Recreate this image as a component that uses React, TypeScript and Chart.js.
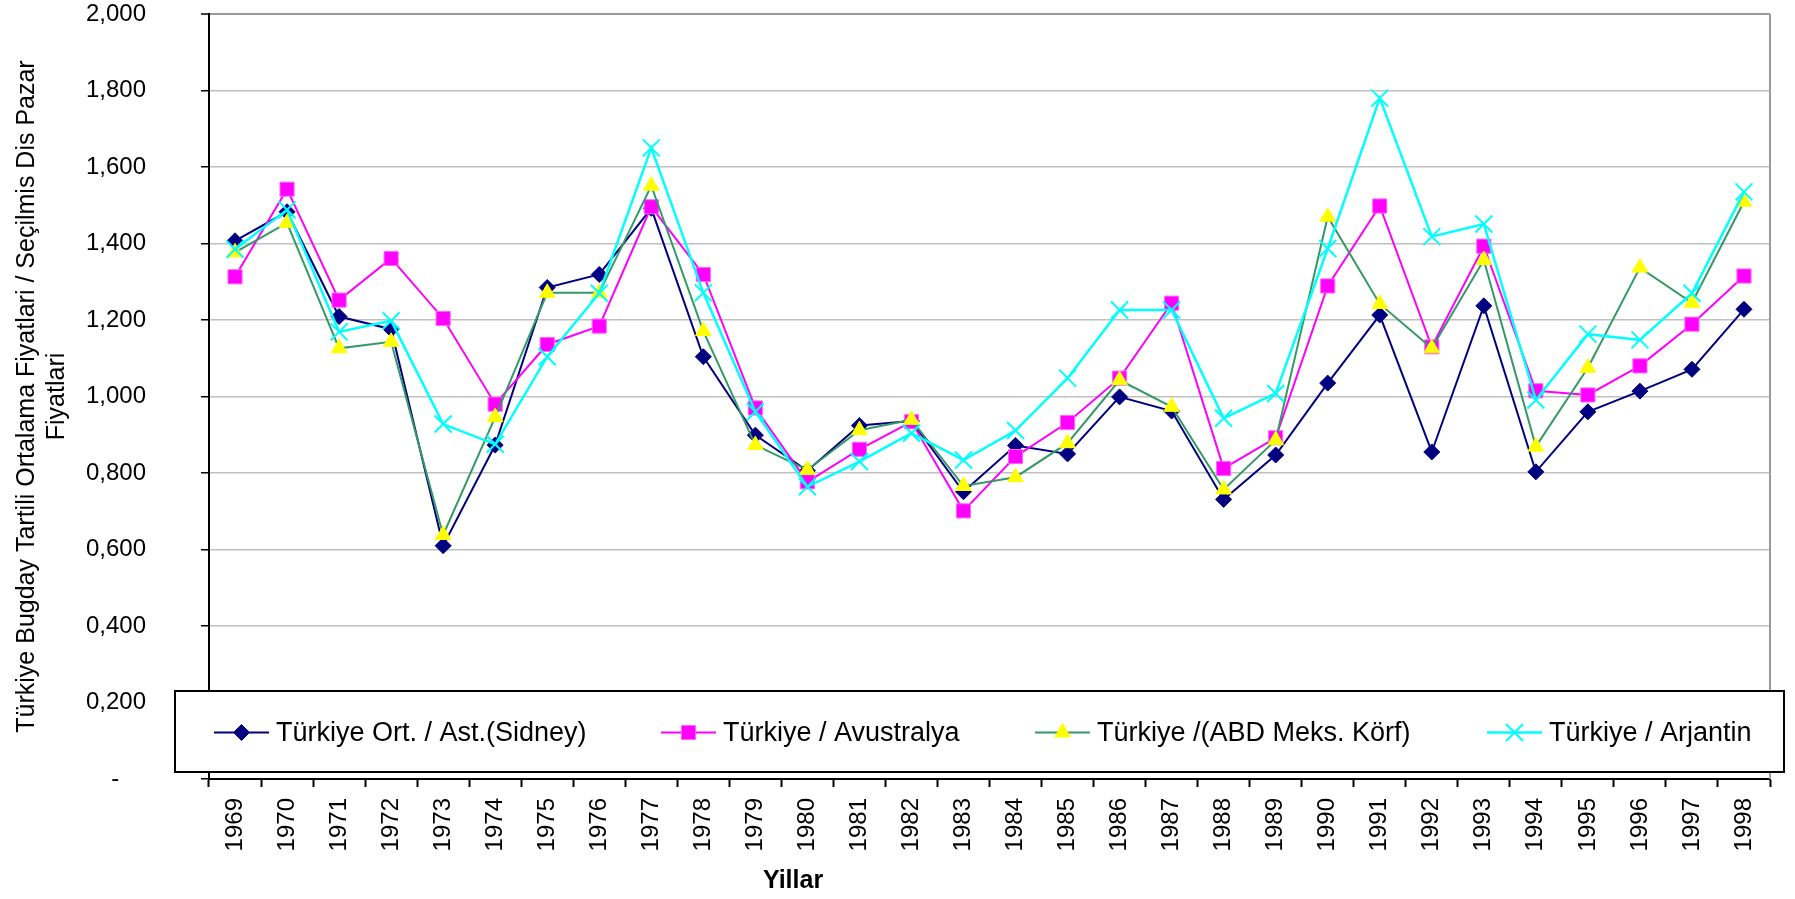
import React, { useEffect, useRef } from "react";
import { Chart, registerables } from "chart.js";
import { drawPoint } from "chart.js/helpers";

Chart.register(...registerables);

const years = [
  "1969", "1970", "1971", "1972", "1973", "1974", "1975", "1976", "1977", "1978",
  "1979", "1980", "1981", "1982", "1983", "1984", "1985", "1986", "1987", "1988",
  "1989", "1990", "1991", "1992", "1993", "1994", "1995", "1996", "1997", "1998",
];

const sidney = [
  1.407, 1.483, 1.209, 1.176, 0.61, 0.873, 1.285, 1.319, 1.492, 1.104,
  0.899, 0.806, 0.924, 0.936, 0.751, 0.872, 0.85, 0.999, 0.962, 0.731,
  0.847, 1.035, 1.213, 0.855, 1.237, 0.803, 0.96, 1.014, 1.071, 1.228,
];

const avustralya = [
  1.313, 1.542, 1.252, 1.361, 1.204, 0.98, 1.136, 1.184, 1.496, 1.319,
  0.97, 0.777, 0.862, 0.934, 0.701, 0.843, 0.932, 1.048, 1.244, 0.812,
  0.892, 1.289, 1.498, 1.13, 1.393, 1.015, 1.004, 1.08, 1.189, 1.315,
];

const abdMeks = [
  1.377, 1.454, 1.126, 1.143, 0.638, 0.946, 1.271, 1.271, 1.551, 1.171,
  0.873, 0.808, 0.912, 0.939, 0.766, 0.789, 0.878, 1.043, 0.973, 0.757,
  0.886, 1.47, 1.242, 1.126, 1.357, 0.869, 1.075, 1.337, 1.245, 1.509,
];

const arjantin = [
  1.385, 1.488, 1.169, 1.198, 0.928, 0.875, 1.104, 1.27, 1.65, 1.271,
  0.96, 0.764, 0.83, 0.904, 0.834, 0.911, 1.048, 1.226, 1.226, 0.943,
  1.008, 1.387, 1.78, 1.418, 1.451, 0.991, 1.163, 1.148, 1.27, 1.535,
];

const seriesLabels = [
  "Türkiye Ort. / Ast.(Sidney)",
  "Türkiye / Avustralya",
  "Türkiye /(ABD Meks. Körf)",
  "Türkiye / Arjantin",
];

const yTitle = [
  "Türkiye Bugday Tartili Ortalama Fiyatlari / Seçilmis Dis Pazar",
  "Fiyatlari",
];
const xTitle = "Yillar";

const FONT = "'Liberation Sans', Arial, sans-serif";

const legendItemX = [214, 661, 1035, 1487];

const customDecor = {
  id: "customDecor",
  afterDraw(chart: any) {
    const { ctx, chartArea } = chart;
    ctx.save();
    // right plot border
    ctx.strokeStyle = "#9a9a9a";
    ctx.lineWidth = 2;
    ctx.beginPath();
    ctx.moveTo(chartArea.right, chartArea.top);
    ctx.lineTo(chartArea.right, chartArea.bottom);
    ctx.stroke();

    // legend box
    const bx = chartArea.left - 34;
    const by = 691;
    const bw = chart.width - 11 - bx;
    const bh = 81;
    ctx.fillStyle = "#ffffff";
    ctx.fillRect(bx, by, bw, bh);
    ctx.strokeStyle = "#000000";
    ctx.lineWidth = 2;
    ctx.strokeRect(bx, by, bw, bh);

    const cy = by + bh / 2 + 1;
    chart.data.datasets.forEach((ds: any, i: number) => {
      const x0 = legendItemX[i];
      ctx.strokeStyle = ds.borderColor;
      ctx.lineWidth = ds.borderWidth;
      ctx.beginPath();
      ctx.moveTo(x0, cy);
      ctx.lineTo(x0 + 55, cy);
      ctx.stroke();
      ctx.fillStyle = ds.pointBackgroundColor;
      ctx.strokeStyle = ds.pointBorderColor;
      ctx.lineWidth = ds.pointBorderWidth;
      drawPoint(
        ctx,
        {
          pointStyle: ds.pointStyle,
          rotation: 0,
          radius: ds.pointRadius,
          borderWidth: ds.pointBorderWidth,
        },
        x0 + 27.5,
        cy
      );
      ctx.fillStyle = "#000000";
      ctx.font = `27px ${FONT}`;
      ctx.textAlign = "left";
      ctx.textBaseline = "middle";
      ctx.fillText(ds.label, x0 + 62, cy + 1);
    });

    // x-axis title
    ctx.fillStyle = "#000000";
    ctx.font = `bold 25px ${FONT}`;
    ctx.textAlign = "center";
    ctx.textBaseline = "middle";
    ctx.fillText(xTitle, 793, 881);
    ctx.restore();
  },
};

export default function App() {
  const ref = useRef<HTMLCanvasElement>(null);

  useEffect(() => {
    document.body.style.margin = "0";
    document.body.style.overflow = "hidden";
    Chart.defaults.font.family = FONT;
    Chart.defaults.color = "#000000";
    const canvas = ref.current;
    if (!canvas) return;

    const chart = new Chart(canvas, {
      type: "line",
      data: {
        labels: years,
        datasets: [
          {
            label: seriesLabels[0],
            data: sidney,
            borderColor: "#000080",
            borderWidth: 2,
            pointStyle: "rectRot",
            pointRadius: 8,
            pointBackgroundColor: "#000080",
            pointBorderColor: "#000080",
            pointBorderWidth: 1,
            tension: 0,
            order: 4,
          },
          {
            label: seriesLabels[1],
            data: avustralya,
            borderColor: "#ff00ff",
            borderWidth: 2,
            pointStyle: "rect",
            pointRadius: 10,
            pointBackgroundColor: "#ff00ff",
            pointBorderColor: "#ff66ff",
            pointBorderWidth: 1,
            tension: 0,
            order: 3,
          },
          {
            label: seriesLabels[2],
            data: abdMeks,
            borderColor: "#339966",
            borderWidth: 2,
            pointStyle: "triangle",
            pointRadius: 9,
            pointBackgroundColor: "#ffff00",
            pointBorderColor: "#ffff00",
            pointBorderWidth: 1,
            tension: 0,
            order: 2,
          },
          {
            label: seriesLabels[3],
            data: arjantin,
            borderColor: "#00ffff",
            borderWidth: 2.5,
            pointStyle: "crossRot",
            pointRadius: 12,
            pointBackgroundColor: "#00ffff",
            pointBorderColor: "#00ffff",
            pointBorderWidth: 2,
            tension: 0,
            order: 1,
          },
        ] as any,
      },
      options: {
        responsive: false,
        animation: false,
        devicePixelRatio: 1,
        layout: { padding: { top: 14, right: 25, bottom: 0, left: 0 } },
        plugins: {
          legend: { display: false },
          tooltip: { enabled: false },
          title: { display: false },
        },
        scales: {
          x: {
            type: "category",
            offset: true,
            grid: {
              offset: true,
              drawOnChartArea: false,
              drawTicks: true,
              tickLength: 8,
              tickColor: "#000000",
              tickWidth: 2,
            },
            border: { color: "#000000", width: 2 },
            ticks: {
              autoSkip: false,
              minRotation: 90,
              maxRotation: 90,
              padding: 11,
              color: "#000000",
              font: { size: 24, family: FONT },
            },
            afterFit: (s: any) => {
              s.height = 120;
              s.paddingLeft = 0;
              s.paddingRight = 0;
            },
          },
          y: {
            min: 0,
            max: 2,
            grid: {
              color: (c: any) =>
                c.tick && Math.abs(c.tick.value - 2) < 1e-6 ? "#9a9a9a" : "#c0c0c0",
              lineWidth: (c: any) =>
                c.tick && Math.abs(c.tick.value - 2) < 1e-6 ? 2 : 1.5,
              tickLength: 8,
              tickColor: "#000000",
              tickWidth: 1.5,
            },
            border: { color: "#000000", width: 2 },
            ticks: {
              stepSize: 0.2,
              padding: 55,
              color: "#000000",
              font: { size: 24, family: FONT },
              callback: (v: any) => {
                const n = Math.round(Number(v) * 1000) / 1000;
                if (n === 0) return "-    ";
                return n.toFixed(3).replace(".", ",");
              },
            },
            title: {
              display: true,
              text: yTitle,
              color: "#000000",
              font: { size: 25, family: FONT, lineHeight: 1.2 },
              padding: { top: 12, bottom: 0 },
            },
            afterFit: (s: any) => {
              s.width = 209;
              s.paddingTop = 0;
              s.paddingBottom = 0;
            },
          },
        },
      },
      plugins: [customDecor],
    });

    return () => chart.destroy();
  }, []);

  return (
    <div style={{ width: 1795, height: 899 }}>
      <canvas ref={ref} width={1795} height={899} style={{ display: "block", width: 1795, height: 899 }} />
    </div>
  );
}
